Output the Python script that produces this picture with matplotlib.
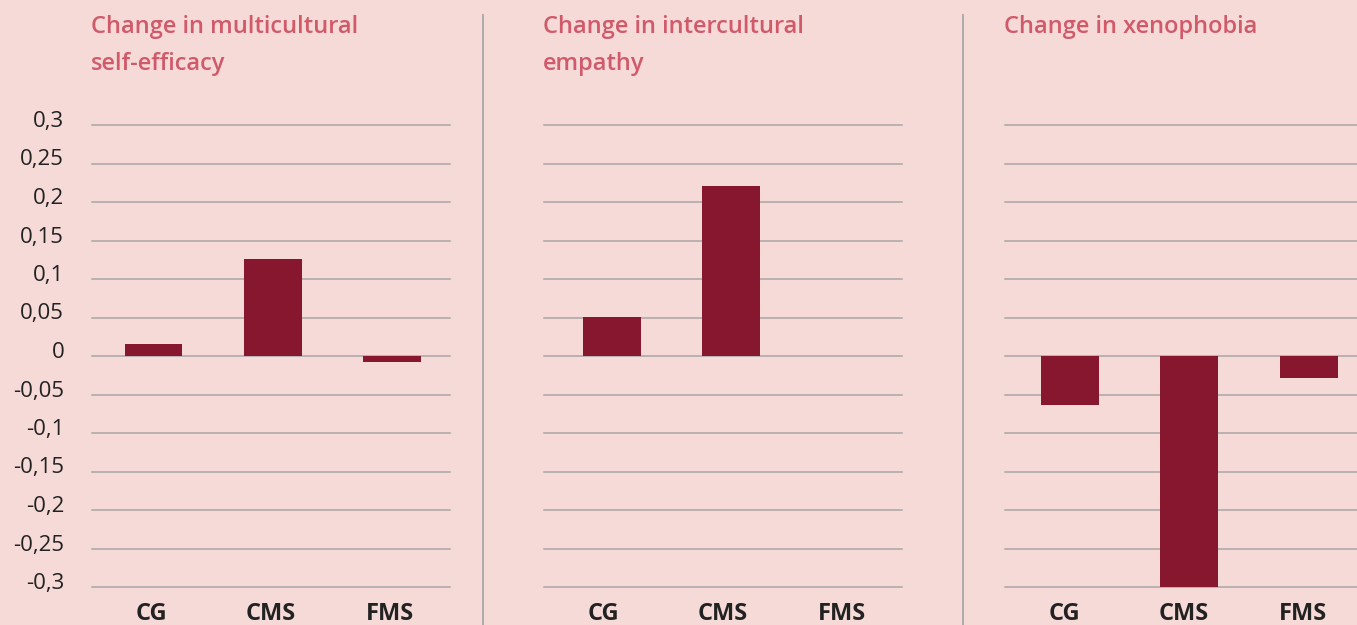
import numpy as np
import matplotlib.pyplot as plt
from matplotlib.lines import Line2D
from matplotlib.transforms import ScaledTranslation

plt.rcParams['font.family'] = ['Open Sans', 'DejaVu Sans']

# data
groups = ['CG', 'CMS', 'FMS']
titles = ['Change in multicultural\nself-efficacy',
          'Change in intercultural\nempathy',
          'Change in xenophobia']
self_efficacy = [0.016, 0.126, -0.008]
empathy = [0.051, 0.221, 0.0]
xenophobia = [-0.064, -0.3, -0.029]
series = [self_efficacy, empathy, xenophobia]
yticks = [0.3, 0.25, 0.2, 0.15, 0.1, 0.05, 0, -0.05, -0.1, -0.15, -0.2, -0.25, -0.3]
ytick_labels = ['0,3', '0,25', '0,2', '0,15', '0,1', '0,05', '0',
                '-0,05', '-0,1', '-0,15', '-0,2', '-0,25', '-0,3']

bg = '#f5dad7'
bar_col = '#87172f'
title_col = '#d15a6a'
grid_col = '#a9a6a6'

W, H = 1357, 625
fig = plt.figure(figsize=(W / 100, H / 100), dpi=100, facecolor=bg)

lefts = [92, 544, 1005]
bar_shift = [0.015, 0.07, 0.045]  # bars sit slightly right of the label centres
aw = 358
bottom = (H - 587) / H
height = (587 - 125) / H

for i in range(3):
    ax = fig.add_axes([lefts[i] / W, bottom, aw / W, height])
    ax.set_facecolor(bg)
    ax.set_xlim(-0.5, 2.5)
    ax.set_ylim(-0.3, 0.3)
    for yv in yticks:
        ax.axhline(yv, color=grid_col, lw=1.1, zorder=1, clip_on=False)
    ax.bar(np.arange(3) + bar_shift[i], series[i], width=0.485, color=bar_col, zorder=2)
    for s in ax.spines.values():
        s.set_visible(False)
    ax.set_xticks(np.arange(3))
    ax.set_xticklabels(groups, fontsize=17, fontweight='bold', color='#222222')
    ax.tick_params(axis='x', length=0, pad=11)
    ax.set_yticks(yticks)
    if i == 0:
        ax.set_yticklabels(ytick_labels, fontsize=16, color='#222222')
        ax.tick_params(axis='y', length=0, pad=20)
        for lab in ax.get_yticklabels():
            lab.set_transform(lab.get_transform() + ScaledTranslation(0, 6 / 100, fig.dpi_scale_trans))
    else:
        ax.set_yticklabels([])
        ax.tick_params(axis='y', length=0)
    fig.text(lefts[i] / W - 1 / W, 1 - 15 / H, titles[i], color=title_col, fontsize=17,
             fontweight='semibold', va='top', ha='left', linespacing=1.75)

for xs in [483, 963]:
    fig.add_artist(Line2D([xs / W, xs / W], [0, 1 - 15 / H], color=grid_col, lw=1.3))

fig.savefig('out.png', dpi=100, facecolor=bg)
